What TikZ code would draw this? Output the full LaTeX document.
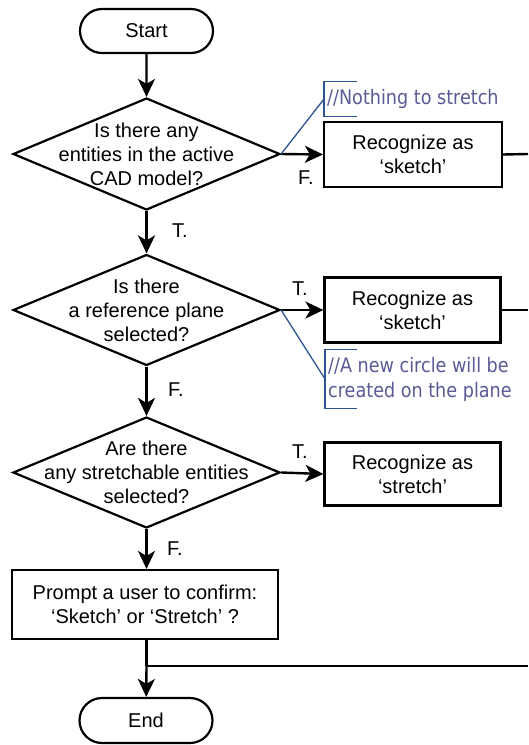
\documentclass[tikz,border=0pt]{standalone}
\usepackage{fontspec}
\setmainfont{Liberation Sans}
\newfontfamily\cmtfont[FakeStretch=0.88]{DejaVu Sans}
\usetikzlibrary{shapes.geometric,shapes.misc,arrows.meta}
\definecolor{cmttext}{RGB}{90,90,150}
\definecolor{cmtline}{RGB}{45,85,145}
\begin{document}
\begin{tikzpicture}[x=1pt,y=-1pt,
  every node/.style={font=\fontsize{20}{24}\selectfont},
  flow/.style={line width=2.4pt, -{Stealth[length=18pt,width=17pt,inset=5pt]}},
  plain/.style={line width=2.4pt},
  term/.style={draw, line width=2.2pt, rounded rectangle, minimum width=133pt, minimum height=44pt, inner sep=0pt},
  dec/.style={draw, line width=2.2pt, diamond, minimum width=267pt, minimum height=112pt, inner sep=0pt},
  proc/.style={draw, line width=2.2pt, rectangle, minimum width=176pt, minimum height=65pt, inner sep=0pt, align=center},
  lab/.style={inner sep=0pt},
  cmt/.style={font=\cmtfont\fontsize{20}{25}\selectfont, text=cmttext, anchor=west, inner xsep=3pt, inner ysep=0pt, align=left},
  cmtline/.style={draw=cmtline, line width=1.3pt}]
\useasboundingbox (0,0) rectangle (528,745);

\node[term] (start) at (146.5,31) {Start};
\node[dec, label={[align=center]center:Is there any\\entities in the active\\CAD model?}] (d1) at (146.5,154) {};
\node[dec, minimum height=111pt, label={[align=center]center:Is there\\a reference plane\\selected?}] (d2) at (146.5,310) {};
\node[dec, minimum height=111pt, label={[align=center]center:Are there\\any stretchable entities\\selected?}] (d3) at (146.5,472.5) {};
\node[proc, minimum width=178pt] (b1) at (413,154.5) {Recognize as\\`sketch'};
\node[proc] (b2) at (412.5,310) {Recognize as\\`sketch'};
\node[proc, minimum height=63pt] (b3) at (412.5,474) {Recognize as\\`stretch'};
\node[proc, minimum width=266pt, minimum height=69pt] (p) at (145,604.5) {Prompt a user to confirm:\\`Sketch' or `Stretch' ?};
\node[term, minimum height=45pt] (end) at (146,720.5) {End};

\coordinate (e1) at (528,154);
\coordinate (e2) at (528,310);
\coordinate (e3) at (528,666);
\coordinate (j) at (146.5,666);

\draw[flow] (start) -- (d1);
\draw[flow] (d1) -- (d2);
\draw[flow] (d2) -- (d3);
\draw[flow] (d3.south) -- (d3.south |- p.north);
\draw[plain] (p.south -| j) -- (j);
\draw[flow] (j) -- (end);
\draw[plain] (j) -- (e3);
\draw[flow] (d1.east) -- (b1.west);
\draw[flow] (d2.east) -- (b2.west);
\draw[flow] (d3.east) -- (b3.west);
\draw[plain] (b1.east) -- (e1);
\draw[plain] (b2.east) -- (e2);

\node[lab] (l1) at (180,231) {T.};
\node[lab] (l2) at (176,390) {F.};
\node[lab] (l3) at (175,549) {F.};
\node[lab] (l4) at (306,178) {F.};
\node[lab] (l5) at (300,289) {T.};
\node[lab] (l6) at (300,452) {T.};

\node[cmt, minimum height=34pt] (c1) at (324,99) {//Nothing to stretch};
\draw[cmtline] ([xshift=33pt]c1.north west) -- (c1.north west) -- (c1.south west) -- ([xshift=33pt]c1.south west);
\draw[cmtline] (d1.east) -- (c1.west);
\node[cmt, minimum height=58pt] (c2) at (325,379) {//A new circle will be\\created on the plane};
\draw[cmtline] ([xshift=32pt]c2.north west) -- (c2.north west) -- (c2.south west) -- ([xshift=32pt]c2.south west);
\draw[cmtline] (d2.east) -- (c2.west);
\end{tikzpicture}
\end{document}
